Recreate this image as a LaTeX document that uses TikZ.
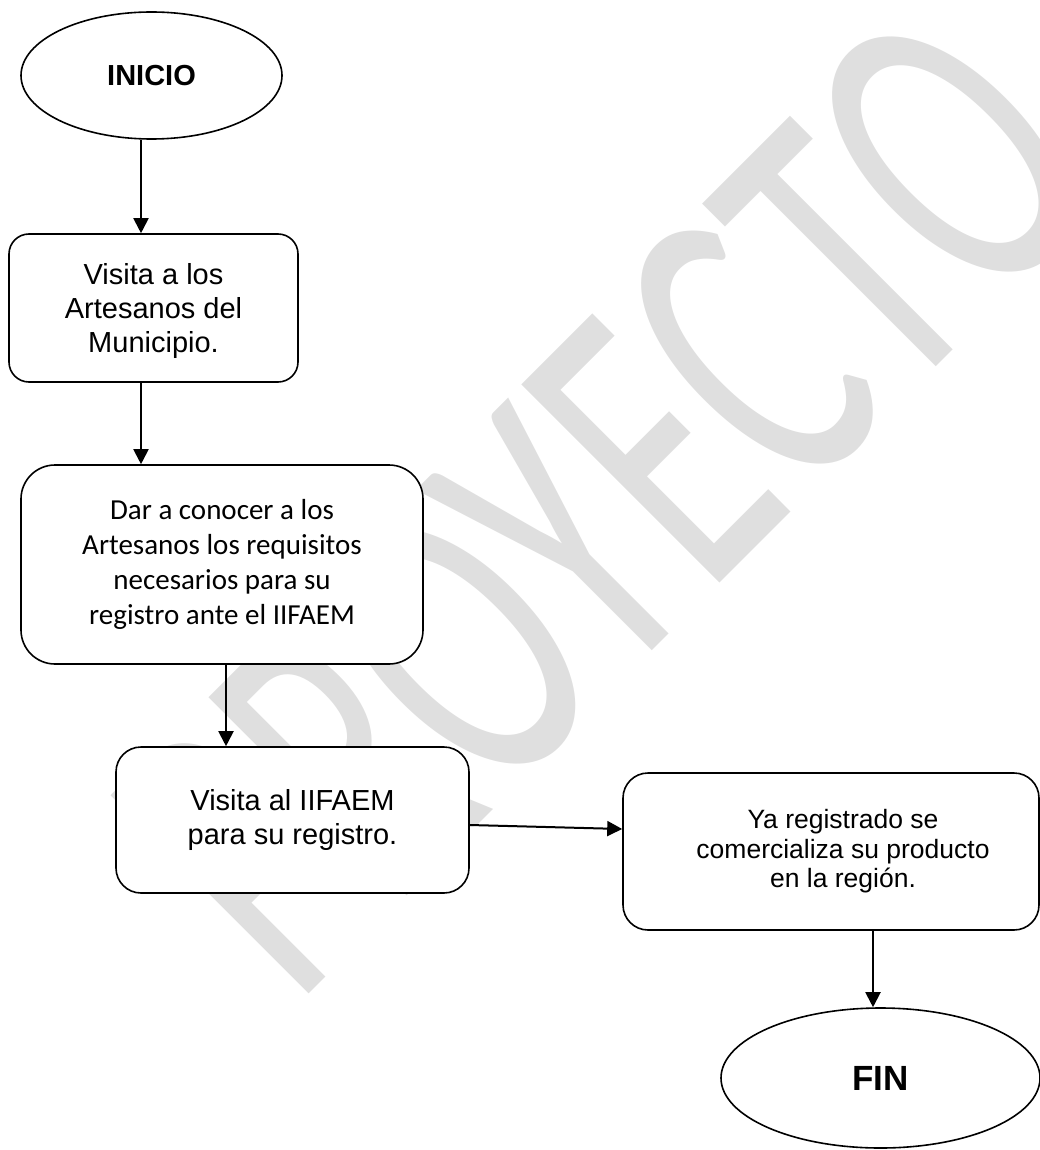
\documentclass[tikz,border=0pt]{standalone}
\usepackage{fontspec}
\setmainfont{Liberation Sans}
\newfontfamily\calibri{Carlito}
\usepackage{tikz}
\usetikzlibrary{shapes,arrows.meta}
\definecolor{marca}{RGB}{223,223,223}

\begin{document}
\begin{tikzpicture}[x=1pt,y=-1pt,
    terminal/.style={ellipse,draw,fill=white,line width=1.6pt,inner sep=0pt,font=\bfseries\fontsize{29}{34}\selectfont},
    paso/.style={rectangle,draw,fill=white,line width=1.6pt,rounded corners=22pt,align=center,inner sep=0pt,font=\fontsize{29}{34}\selectfont},
    flecha/.style={line width=2pt,-{Triangle[length=15pt,width=15pt]}}]
        \clip (0,0) rectangle (1040,1150);
        % marca de agua
        \node[text=marca,font=\calibri\fontsize{268}{268}\selectfont,anchor=base west,inner sep=0pt,rotate=45,yscale=1.63,transform shape] (marca) at (295,1008) {PROYECTO};

        \node[terminal,minimum width=261pt,minimum height=127pt] (inicio) at (151.5,75.5) {INICIO};
        \node[paso,minimum width=289pt,minimum height=148pt,rounded corners=20pt,text depth=0pt] (visita) at (153.5,308) {Visita a los\\Artesanos del\\Municipio.};
        \node[paso,minimum width=402pt,minimum height=199pt,rounded corners=34pt,font=\calibri\fontsize{29}{35}\selectfont] (requisitos) at (222,564.5) {Dar a conocer a los\\Artesanos los requisitos\\necesarios para su\\registro ante el IIFAEM};
        \node[paso,minimum width=353pt,minimum height=146pt,rounded corners=25pt] (registro) at (292.5,820) {Visita al IIFAEM\\para su registro.};
        \node[paso,minimum width=416pt,minimum height=157pt,rounded corners=25pt,
              label={[xshift=12pt,align=center,font=\fontsize{26.5}{29.5}\selectfont]center:Ya registrado se\\comercializa su producto\\en la región.}] (region) at (831,851.5) {};
        \node[terminal,minimum width=319pt,minimum height=140pt,font=\bfseries\fontsize{35}{40}\selectfont] (fin) at (880.5,1078) {FIN};

        \draw[flecha] ([xshift=-10.5pt]inicio.south) -- ([xshift=-12.5pt]visita.north);
        \draw[flecha] ([xshift=-12.5pt]visita.south) -- ([xshift=-81pt]requisitos.north);
        \draw[flecha] ([xshift=4pt]requisitos.south) -- ([xshift=-66.5pt]registro.north);
        \draw[flecha] ([yshift=-5pt]registro.east) -- ([yshift=22.5pt]region.west);
        \draw[flecha] ([xshift=42pt]region.south) -- ([xshift=-7.5pt]fin.north);
\end{tikzpicture}
\end{document}
